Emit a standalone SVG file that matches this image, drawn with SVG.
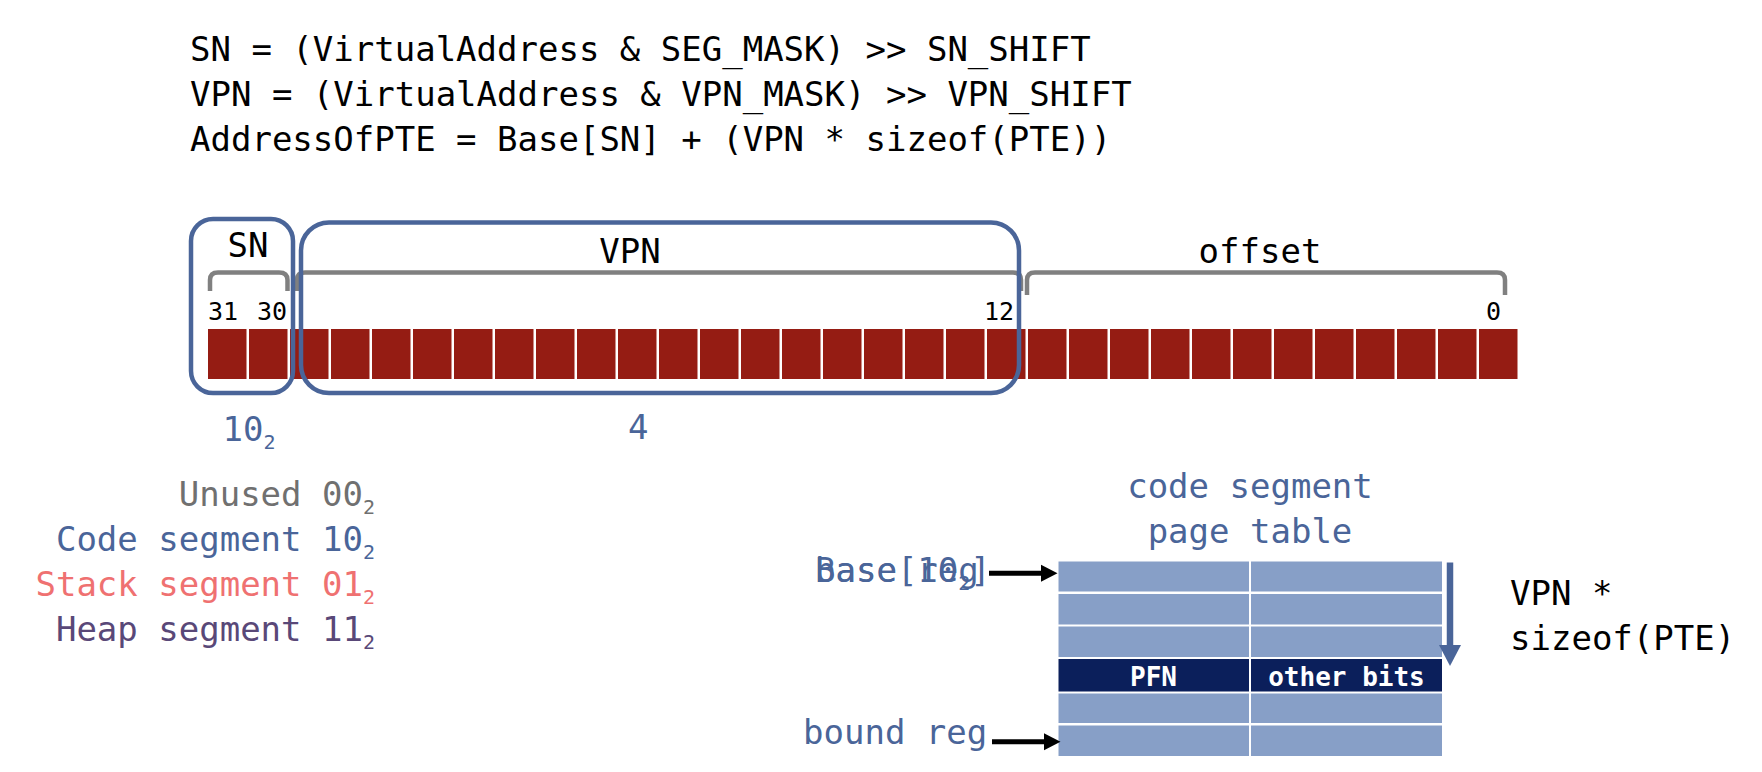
<svg xmlns="http://www.w3.org/2000/svg" width="1762" height="772" viewBox="0 0 1762 772">
<style>
text{font-family:"DejaVu Sans Mono","Liberation Mono",monospace;font-size:34px}
.k{fill:#000}
.b{fill:#4A6599}
.cell{fill:#951C13}
.seg{fill:none;stroke:#4A6599;stroke-width:4.5}
.br{fill:none;stroke:#808080;stroke-width:4.5;stroke-linejoin:round}
.num{font-size:25px}
.sub{font-size:20px}
.lt{fill:#879FC7}
.dk{fill:#0B1F5B}
.wt{fill:#fff;font-weight:bold;font-size:26px}
</style>
<defs>
<marker id="ah" markerUnits="userSpaceOnUse" markerWidth="18" markerHeight="18" viewBox="0 -9 18 18" refX="1" refY="0" orient="auto"><path d="M0,-8.5 L16.5,0 L0,8.5 Z" fill="#000"/></marker>
<marker id="ahb" markerUnits="userSpaceOnUse" markerWidth="24" markerHeight="24" viewBox="0 -12 24 24" refX="1" refY="0" orient="auto"><path d="M0,-11 L21,0 L0,11 Z" fill="#4A6599"/></marker>
</defs>
<rect width="1762" height="772" fill="#fff"/>
<g id="formulas" class="k">
<text x="190" y="60.5">SN = (VirtualAddress &amp; SEG_MASK) &gt;&gt; SN_SHIFT</text>
<text x="190" y="105.5">VPN = (VirtualAddress &amp; VPN_MASK) &gt;&gt; VPN_SHIFT</text>
<text x="190" y="151">AddressOfPTE = Base[SN] + (VPN * sizeof(PTE))</text>
</g>
<g id="brackets">
<path class="br" d="M210,291 V280 Q210,272.5 218,272.5 H279 Q287.5,272.5 287.5,280 V291"/>
<path class="br" d="M297,291 V280 Q297,272.5 305,272.5 H1013 Q1021,272.5 1021,280 V291"/>
<path class="br" d="M1027,295 V280 Q1027,272.5 1035,272.5 H1497 Q1505,272.5 1505,280 V295"/>
</g>
<g id="bits">
<rect class="cell" x="208" y="329" width="38.5" height="50"/>
<rect class="cell" x="249" y="329" width="38.5" height="50"/>
<rect class="cell" x="290" y="329" width="38.5" height="50"/>
<rect class="cell" x="331" y="329" width="38.5" height="50"/>
<rect class="cell" x="372" y="329" width="38.5" height="50"/>
<rect class="cell" x="413" y="329" width="38.5" height="50"/>
<rect class="cell" x="454" y="329" width="38.5" height="50"/>
<rect class="cell" x="495" y="329" width="38.5" height="50"/>
<rect class="cell" x="536" y="329" width="38.5" height="50"/>
<rect class="cell" x="577" y="329" width="38.5" height="50"/>
<rect class="cell" x="618" y="329" width="38.5" height="50"/>
<rect class="cell" x="659" y="329" width="38.5" height="50"/>
<rect class="cell" x="700" y="329" width="38.5" height="50"/>
<rect class="cell" x="741" y="329" width="38.5" height="50"/>
<rect class="cell" x="782" y="329" width="38.5" height="50"/>
<rect class="cell" x="823" y="329" width="38.5" height="50"/>
<rect class="cell" x="864" y="329" width="38.5" height="50"/>
<rect class="cell" x="905" y="329" width="38.5" height="50"/>
<rect class="cell" x="946" y="329" width="38.5" height="50"/>
<rect class="cell" x="987" y="329" width="38.5" height="50"/>
<rect class="cell" x="1028" y="329" width="38.5" height="50"/>
<rect class="cell" x="1069" y="329" width="38.5" height="50"/>
<rect class="cell" x="1110" y="329" width="38.5" height="50"/>
<rect class="cell" x="1151" y="329" width="38.5" height="50"/>
<rect class="cell" x="1192" y="329" width="38.5" height="50"/>
<rect class="cell" x="1233" y="329" width="38.5" height="50"/>
<rect class="cell" x="1274" y="329" width="38.5" height="50"/>
<rect class="cell" x="1315" y="329" width="38.5" height="50"/>
<rect class="cell" x="1356" y="329" width="38.5" height="50"/>
<rect class="cell" x="1397" y="329" width="38.5" height="50"/>
<rect class="cell" x="1438" y="329" width="38.5" height="50"/>
<rect class="cell" x="1479" y="329" width="38.5" height="50"/>
</g>
<g id="bitnums" class="k">
<text class="num" x="208" y="320">31</text>
<text class="num" x="257" y="320">30</text>
<text class="num" x="984" y="320">12</text>
<text class="num" x="1486" y="320">0</text>
</g>
<g id="sn-field">
<rect class="seg" x="191" y="219" width="102" height="174" rx="22"/>
<text class="k" x="248" y="257" text-anchor="middle">SN</text>
<text class="b" x="222.5" y="441">10<tspan class="sub" dy="8">2</tspan></text>
</g>
<g id="vpn-field">
<rect class="seg" x="301" y="222.5" width="718" height="170.5" rx="28"/>
<text class="k" x="630" y="263" text-anchor="middle">VPN</text>
<text class="b" x="628" y="439">4</text>
</g>
<g id="offset-field">
<text class="k" x="1260" y="263" text-anchor="middle">offset</text>
</g>
<g id="legend">
<text x="375" y="506" text-anchor="end" fill="#707070">Unused 00<tspan class="sub" dy="8">2</tspan></text>
<text x="375" y="551" text-anchor="end" fill="#4A6599">Code segment 10<tspan class="sub" dy="8">2</tspan></text>
<text x="375" y="596" text-anchor="end" fill="#EF7171">Stack segment 01<tspan class="sub" dy="8">2</tspan></text>
<text x="375" y="641" text-anchor="end" fill="#594878">Heap segment 11<tspan class="sub" dy="8">2</tspan></text>
</g>
<g id="page-table">
<text class="b" x="1250" y="498" text-anchor="middle">code segment</text>
<text class="b" x="1250" y="543" text-anchor="middle">page table</text>
<rect class="lt" x="1058.5" y="561.5" width="190.5" height="30"/>
<rect class="lt" x="1251" y="561.5" width="191" height="30"/>
<rect class="lt" x="1058.5" y="594" width="190.5" height="30.5"/>
<rect class="lt" x="1251" y="594" width="191" height="30.5"/>
<rect class="lt" x="1058.5" y="626.5" width="190.5" height="30.5"/>
<rect class="lt" x="1251" y="626.5" width="191" height="30.5"/>
<rect class="dk" x="1058.5" y="659" width="190.5" height="32.5"/>
<rect class="dk" x="1251" y="659" width="191" height="32.5"/>
<rect class="lt" x="1058.5" y="693.5" width="190.5" height="29.5"/>
<rect class="lt" x="1251" y="693.5" width="191" height="29.5"/>
<rect class="lt" x="1058.5" y="725.5" width="190.5" height="30.5"/>
<rect class="lt" x="1251" y="725.5" width="191" height="30.5"/>
<text class="wt" x="1153.5" y="686" text-anchor="middle">PFN</text>
<text class="wt" x="1346.5" y="686" text-anchor="middle">other bits</text>
</g>
<g id="registers" class="b">
<text x="815" y="582">base reg</text>
<text x="815" y="582">Base[10<tspan class="sub" dy="8">2</tspan><tspan dy="-8">]</tspan></text>
<text x="803" y="744">bound reg</text>
</g>
<g id="offset-label" class="k">
<text x="1510" y="605">VPN *</text>
<text x="1510" y="650">sizeof(PTE)</text>
</g>
<g id="connectors">
<line x1="989" y1="573.3" x2="1042" y2="573.3" stroke="#000" stroke-width="5" marker-end="url(#ah)"/>
<line x1="992" y1="741.7" x2="1045" y2="741.7" stroke="#000" stroke-width="5" marker-end="url(#ah)"/>
<line x1="1450" y1="562.5" x2="1450" y2="646" stroke="#4A6599" stroke-width="6.5" marker-end="url(#ahb)"/>
</g>
</svg>
